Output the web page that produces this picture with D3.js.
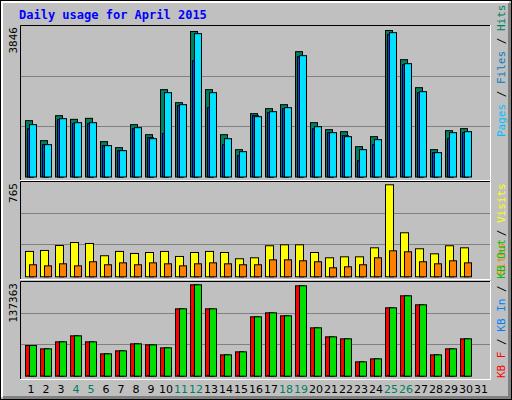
<!DOCTYPE html>
<html><head><meta charset="utf-8">
<script src="https://cdn.jsdelivr.net/npm/d3@7"></script>
<style>body{margin:0;background:#fff}</style>
</head><body>
<script>
// daily values for April 2015
var days = d3.range(1, 31);
var weekendDays = [4, 5, 11, 12, 18, 19, 25, 26];
var hits  = [1479,954,1610,1514,1540,928,770,1374,1111,2293,1951,3820,2293,1111,718,1663,1794,1899,3290,1426,1243,1190,796,1059,3846,3080,2345,718,1216,1269];
var files = [1269,849,1505,1400,1400,823,691,1269,1033,1138,1873,3054,1820,849,560,1610,1689,1794,3159,1269,1164,1085,429,849,3736,2949,2214,639,1006,1164];
var pages = [1374,849,1531,1426,1426,823,691,1295,1006,2214,1899,3763,2214,1006,665,1584,1715,1820,3185,1321,1164,1059,718,980,3789,2975,2240,639,1164,1190];
var visits = [211,219,260,285,277,175,211,194,202,211,169,202,211,202,150,158,258,266,266,202,158,166,166,241,765,366,233,191,258,241];
var sites  = [100,91,108,91,125,100,116,100,116,108,91,108,116,108,100,100,141,141,133,125,75,83,100,158,216,208,125,108,133,116];
var kbIn  = [46120,41107,51634,60657,51634,33587,38099,48626,47122,42611,101263,137363,101263,32083,36595,89231,95247,90735,135852,72689,59153,56146,21556,26068,102767,120813,107278,32083,41107,56146];
var kbOut = kbIn.slice();
var kbF   = [900,800,900,1000,900,700,800,900,900,800,1200,1500,1200,700,800,1100,1100,1100,1400,1000,900,900,600,600,1200,1300,1200,700,800,900];

var W = 512, H = 400;
var svg = d3.select("body").append("svg").attr("width", W).attr("height", H);
var mono = "DejaVu Sans Mono";

// outer frame
svg.append("rect").attr("width", W).attr("height", H).attr("fill", "#c0c0c0");
svg.append("rect").attr("x",0.5).attr("y",0.5).attr("width",W-1).attr("height",H-1).attr("fill","none").attr("stroke","#000");
svg.append("path").attr("d","M2,397V2H509").attr("stroke","#fff").attr("stroke-width",2).attr("fill","none");
svg.append("path").attr("d","M3,397.5H509.5V3").attr("stroke","#808080").attr("stroke-width",3).attr("fill","none");

svg.append("text").attr("x", 19).attr("y", 19).text("Daily usage for April 2015")
  .attr("font-family", mono).attr("font-weight","bold").attr("font-size", 12).attr("fill", "#0000ff");

var x = d3.scaleLinear().domain([1, 31]).range([25, 475]);

function panel(top, base, maxV, label) {
  svg.append("rect").attr("x",20).attr("y",top).attr("width",471).attr("height",base-top+3).attr("fill","#c0c0c0");
  var h = base - top;
  [1, 2].forEach(function (k) {
    var gy = Math.round(base - h * k / 3) + 0.5;
    svg.append("line").attr("x1",21).attr("x2",490).attr("y1",gy).attr("y2",gy).attr("stroke","#808080").attr("stroke-width",1);
  });
  svg.append("path").attr("d","M20.5,"+(base+3)+"V"+(top+0.5)+"H490").attr("stroke","#000").attr("fill","none");
  svg.append("path").attr("d","M20,"+(base+3.5)+"H490.5V"+top).attr("stroke","#fff").attr("fill","none");
  svg.append("text").attr("transform","translate(17,"+(top+2)+") rotate(-90)")
    .attr("text-anchor","end").attr("font-family",mono).attr("font-size",11).text(label);
}

function bars(vals, y, dx, w, color) {
  svg.append("g").selectAll("rect").data(vals).join("rect")
    .attr("x", function (d, i) { return x(days[i]) + dx + 0.5; })
    .attr("y", function (d) { return y(d) + 0.5; })
    .attr("width", w).attr("height", function (d) { return y(0) - y(d); })
    .attr("fill", color).attr("stroke", "#000").attr("stroke-width", 1);
}

// top: hits / files / pages
panel(25, 177, 3846, "3846");
var yTop = d3.scaleLinear().domain([0, 3846]).range([176.5, 30]);
bars(hits, yTop, 0, 7, "#008060");
bars(files, yTop, 2, 6, "#0040ff");
bars(pages, yTop, 4, 7, "#00e0ff");

// middle: visits / sites
panel(181, 276, 765, "765");
var yMid = d3.scaleLinear().domain([0, 765]).range([276.3, 184.3]);
bars(visits, yMid, 0, 8, "#ffff00");
bars(sites, yMid, 4, 7, "#ff8000");

// bottom: kB
panel(281, 376, 137363, "137363");
var yBot = d3.scaleLinear().domain([0, 137363]).range([375.7, 284.3]);
bars(kbIn, yBot, 0, 8, "#ff0000");
bars(kbOut, yBot, 4, 7, "#00e000");
svg.append("g").selectAll("rect").data(kbF).join("rect")
  .attr("x", function (d, i) { return x(days[i]) + 2; })
  .attr("y", function (d) { return yBot(d); })
  .attr("width", 2).attr("height", function (d) { return yBot(0) - yBot(d); })
  .attr("fill", "#000");

// day labels
svg.append("g").selectAll("text").data(d3.range(1, 32)).join("text")
  .attr("x", function (d) { return x(d) + 6; }).attr("y", 393)
  .attr("text-anchor", "middle").attr("font-family", "DejaVu Sans").attr("font-size", 11)
  .attr("fill", function (d) { return weekendDays.indexOf(d) >= 0 ? "#008060" : "#000"; })
  .text(function (d) { return d; });

// right-side legends
function legend(yBottom, parts) {
  var t = svg.append("text").attr("transform", "translate(505," + yBottom + ") rotate(-90)")
    .attr("font-family", mono).attr("font-size", 11);
  parts.forEach(function (p, i) {
    if (i) t.append("tspan").attr("fill", "#000").text(" / ");
    t.append("tspan").attr("fill", p[1]).text(p[0]);
  });
}
legend(137, [["Pages", "#00c0ff"], ["Files", "#0080c0"], ["Hits", "#008060"]]);
legend(276, [["Sites", "#ff8000"], ["Visits", "#ffff00"]]);
legend(378, [["KB F", "#ff0000"], ["KB In", "#0080ff"], ["KB Out", "#00c000"]]);
svg.select("text:last-of-type");
</script>
</body></html>
